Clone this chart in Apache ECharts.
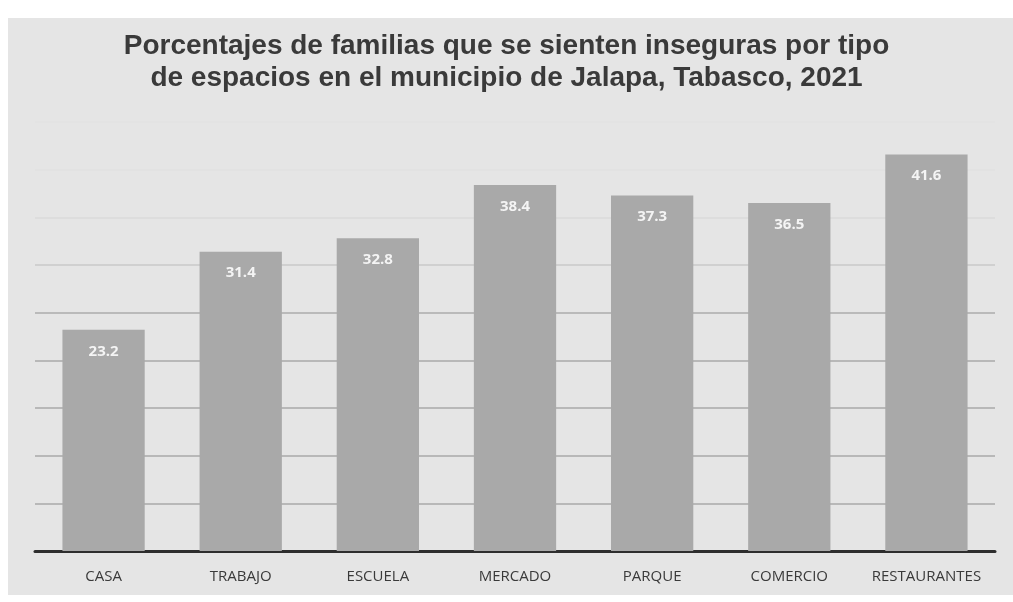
<!DOCTYPE html>
<html>
<head>
<meta charset="utf-8">
<script src="https://cdn.jsdelivr.net/npm/echarts@6/dist/echarts.min.js"></script>
<style>
  html, body { margin: 0; padding: 0; background: #fff; }
  #main { width: 1013px; height: 602px; }
</style>
</head>
<body>
<div id="main"></div>
<script>
  // datos
  var categorias = ['CASA', 'TRABAJO', 'ESCUELA', 'MERCADO', 'PARQUE', 'COMERCIO', 'RESTAURANTES'];
  var porcentajes = [23.2, 31.4, 32.8, 38.4, 37.3, 36.5, 41.6];
  var titulo = 'Porcentajes de familias que se sienten inseguras por tipo\nde espacios en el municipio de Jalapa, Tabasco, 2021';

  // las líneas de arriba casi no se ven en el escaneo
  var coloresRejilla = ['#a8a8a8', '#a8a8a8', '#a8a8a8', '#a8a8a8', '#a8a8a8', '#ababab',
    '#c9c9c9', '#dadada', '#e0e0e0', '#e2e2e2'];

  var myChart = echarts.init(document.getElementById('main'));
  myChart.setOption({
    backgroundColor: '#ffffff',
    animation: false,
    graphic: [{
      type: 'rect',
      z: -10,
      shape: { x: 8, y: 18, width: 1005, height: 577 },
      style: { fill: '#e5e5e5' }
    }],
    title: {
      text: titulo,
      left: 'center',
      top: 25,
      textStyle: {
        fontFamily: 'Liberation Sans',
        fontSize: 28,
        fontWeight: 'bold',
        color: '#3a3a3a',
        lineHeight: 32
      }
    },
    grid: { left: 35, right: 18, top: 122, bottom: 51 },
    xAxis: {
      type: 'category',
      data: categorias,
      axisLine: { lineStyle: { color: '#2e2e2e', width: 3 } },
      axisTick: { show: false },
      axisLabel: {
        interval: 0,
        margin: 18,
        fontFamily: 'Open Sans',
        fontSize: 15,
        color: '#3a3a3a'
      }
    },
    yAxis: {
      type: 'value',
      min: 0,
      max: 45,
      interval: 5,
      axisLabel: { show: false },
      axisLine: { show: false },
      axisTick: { show: false },
      splitLine: { lineStyle: { color: coloresRejilla, width: 1.5 } }
    },
    series: [{
      type: 'bar',
      data: porcentajes,
      barCategoryGap: '40%',
      itemStyle: { color: '#a9a9a9' },
      label: {
        show: true,
        position: 'insideTop',
        distance: 14,
        fontFamily: 'Open Sans',
        fontSize: 15,
        fontWeight: 'bold',
        color: '#f4f4f4'
      }
    }]
  });
</script>
</body>
</html>
